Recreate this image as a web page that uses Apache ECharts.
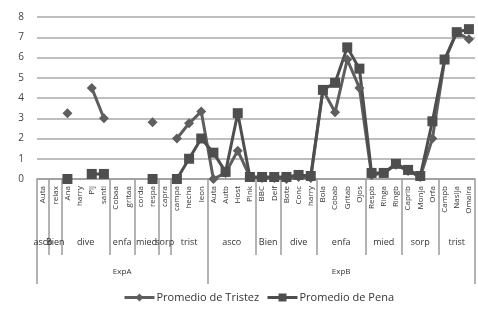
<!DOCTYPE html>
<html>
<head>
<meta charset="utf-8">
<script src="https://cdn.jsdelivr.net/npm/echarts@6/dist/echarts.min.js"></script>
<style>
  html, body { margin: 0; padding: 0; background: #fff; }
  #chart { width: 478px; height: 309px; }
</style>
</head>
<body>
<div id="chart"></div>
<script>
// categorias (nivel hoja)
const leafLabels = [
  'Auta', 'relax', 'Ana', 'harry', 'Pij', 'santi', 'Cobaa', 'gritaa', 'corda', 'respa', 'capra', 'campa', 'hecha', 'leon',
  'Auta', 'Autb', 'Host', 'Pink', 'BBC', 'Delf', 'Bote', 'Conc', 'harry', 'Bola', 'Cobab', 'Gritab', 'Ojos',
  'Respb', 'Ringa', 'Ringb', 'Caprib', 'Monja', 'Orfa', 'Campb', 'Nasija', 'Omaira'
]
// segundo nivel
const groupLabels = ['asco', 'Bien', 'dive', 'enfa', 'mied', 'sorp', 'trist', 'asco', 'Bien', 'dive', 'enfa', 'mied', 'sorp', 'trist']
const groupSizes = [1, 1, 4, 2, 2, 1, 3, 4, 2, 3, 4, 3, 3, 3]
// tercer nivel
const expLabels = ['ExpA', 'ExpB']
const expSizes = [14, 22]

const seriesNames = ['Promedio de Tristez', 'Promedio de Pena']

const tristez = [
  null, null, 3.25, null, 4.5, 3.0, null, null, null, 2.8, null, 2.0, 2.75, 3.33,
  0, 0.3, 1.4, 0.1, 0.05, 0.05, 0, 0.1, 0.05, 4.4, 3.3, 5.9, 4.5,
  0.2, 0.3, 0.7, 0.4, 0.1, 2.0, 5.85, 7.25, 6.9
]
const pena = [
  null, null, 0, null, 0.25, 0.25, null, null, null, 0, null, 0, 1.0, 2.0,
  1.3, 0.35, 3.25, 0.1, 0.1, 0.1, 0.1, 0.2, 0.15, 4.4, 4.75, 6.5, 5.45,
  0.3, 0.3, 0.75, 0.45, 0.15, 2.85, 5.9, 7.25, 7.4
]

/**
 * eje fino (2 puntos por categoria): etiqueta de grupo en el centro,
 * marca larga en los limites
 */
const buildLevel = (labels, sizes) => {
  const data = new Array(leafLabels.length * 2 + 1).fill('')
  const bounds = new Set()
  let pos = 0
  labels.forEach((name, i) => {
    data[2 * pos + sizes[i]] = name
    bounds.add(2 * pos)
    pos += sizes[i]
  })
  bounds.add(2 * pos)
  return { data, bounds }
}

const groupLevel = buildLevel(groupLabels, groupSizes)
const expLevel = buildLevel(expLabels, expSizes)

const font = 'Open Sans, Noto Sans, sans-serif'
const tickColor = '#9a9a9a'
const colorTristez = '#5e5e5e'
const colorPena = '#4e4e4e'

// leyenda dibujada a mano (linea + marcador + texto)
const legendItem = (x, name, color, marker) => ({
  type: 'group',
  left: x,
  top: 292,
  children: [
    { type: 'line', shape: { x1: 0, y1: 6, x2: 30, y2: 6 }, style: { stroke: color, lineWidth: 3 } },
    marker === 'diamond'
      ? { type: 'polygon', shape: { points: [[15, 2], [19, 6], [15, 10], [11, 6]] }, style: { fill: color } }
      : { type: 'rect', shape: { x: 11, y: 2, width: 8, height: 8 }, style: { fill: color } },
    { type: 'text', x: 32, y: 6, style: { text: name, fontSize: 11, fill: '#333', fontFamily: font, verticalAlign: 'middle' } }
  ]
})

const chart = echarts.init(document.getElementById('chart'))

const option = {
  animation: false,
  textStyle: { fontFamily: font },
  grid: { left: 37, right: -1, top: 17, bottom: 130 },
  graphic: [
    legendItem(122, seriesNames[0], colorTristez, 'diamond'),
    legendItem(265, seriesNames[1], colorPena, 'rect')
  ],
  xAxis: [
    {
      type: 'category',
      data: leafLabels,
      axisLine: { show: true, lineStyle: { color: tickColor, width: 1.5 } },
      axisTick: { show: false },
      axisLabel: { interval: 0, rotate: 90, fontSize: 8, margin: 7, color: '#333' }
    },
    {
      type: 'category',
      data: groupLevel.data,
      boundaryGap: false,
      position: 'bottom',
      axisLine: { show: false },
      axisTick: {
        length: 76,
        interval: (i) => groupLevel.bounds.has(i),
        lineStyle: { color: tickColor, width: 1.5 }
      },
      axisLabel: { interval: 0, fontSize: 9, margin: 59, color: '#333' }
    },
    {
      type: 'category',
      data: expLevel.data,
      boundaryGap: false,
      position: 'bottom',
      axisLine: { show: false },
      axisTick: {
        length: 105,
        interval: (i) => expLevel.bounds.has(i),
        lineStyle: { color: tickColor, width: 1.5 }
      },
      axisLabel: { interval: 0, fontSize: 8, margin: 89, color: '#333' }
    }
  ],
  yAxis: {
    type: 'value',
    min: 0,
    max: 8,
    interval: 1,
    axisLine: { show: false },
    axisTick: { show: false },
    axisLabel: { fontSize: 10, margin: 13, color: '#444' },
    splitLine: { lineStyle: { color: '#a8a8a8', width: 1.5 } }
  },
  series: [
    {
      name: seriesNames[0],
      type: 'line',
      data: tristez,
      connectNulls: false,
      showAllSymbol: true,
      symbol: 'diamond',
      symbolSize: 10,
      itemStyle: { color: colorTristez },
      lineStyle: { width: 3, color: colorTristez }
    },
    {
      name: seriesNames[1],
      type: 'line',
      data: pena,
      connectNulls: false,
      showAllSymbol: true,
      symbol: 'rect',
      symbolSize: 10,
      itemStyle: { color: colorPena },
      lineStyle: { width: 3, color: colorPena }
    }
  ]
}

chart.setOption(option)
</script>
</body>
</html>
